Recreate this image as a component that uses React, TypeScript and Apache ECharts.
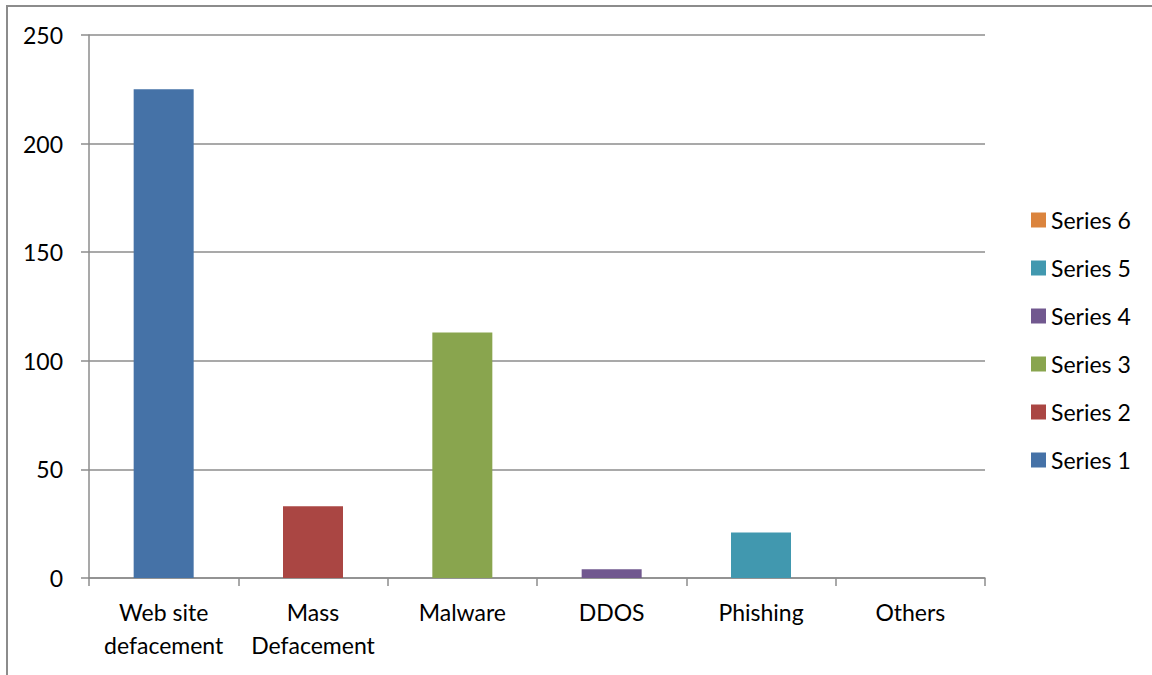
import React, { useEffect, useRef } from "react";
import * as echarts from "echarts";

const categories = ["Web site\ndefacement", "Mass\nDefacement", "Malware", "DDOS", "Phishing", "Others"];
const seriesNames = ["Series 1", "Series 2", "Series 3", "Series 4", "Series 5", "Series 6"];
const seriesValues = [225, 33, 113, 4, 21, 0];
const seriesColors = ["#4572A7", "#AA4643", "#89A54E", "#71588F", "#4198AF", "#DB843D"];
const yTicks = { min: 0, max: 250, interval: 50 };

const FONT = "Lato, 'Open Sans', sans-serif";

export default function App() {
  const ref = useRef<HTMLDivElement>(null);
  useEffect(() => {
    if (!ref.current) return;
    const chart = echarts.init(ref.current, undefined, { renderer: "svg" });
    const series = seriesNames.map((name, i) => ({
      name,
      type: "bar",
      stack: "total",
      barWidth: 60,
      itemStyle: { color: seriesColors[i] },
      data: categories.map((_, j) => (j === i ? seriesValues[i] : "-")),
    }));
    chart.setOption({
      animation: false,
      textStyle: { fontFamily: FONT },
      graphic: [
        {
          type: "rect",
          shape: { x: 7, y: 6, width: 1160, height: 690 },
          style: { fill: "none", stroke: "#8c8c8c", lineWidth: 2 },
          silent: true,
        },
      ],
      grid: { left: 89, right: 167, top: 35, bottom: 97 },
      legend: {
        orient: "vertical",
        left: 1026,
        top: 203,
        itemWidth: 15,
        itemHeight: 15,
        itemGap: 24,
        icon: "rect",
        data: [...seriesNames].reverse(),
        textStyle: { fontSize: 23, color: "#000", lineHeight: 24, fontFamily: FONT },
      },
      xAxis: {
        type: "category",
        data: categories,
        axisLine: { lineStyle: { color: "#8c8c8c", width: 1.5 } },
        axisTick: { show: true, interval: 0, length: 8, alignWithLabel: false, lineStyle: { color: "#8c8c8c", width: 1.5 } },
        axisLabel: { interval: 0, fontSize: 23, color: "#000", lineHeight: 33, margin: 17, fontFamily: FONT },
      },
      yAxis: {
        type: "value",
        min: yTicks.min,
        max: yTicks.max,
        interval: yTicks.interval,
        axisLine: { show: true, lineStyle: { color: "#8c8c8c", width: 1.5 } },
        axisTick: { show: true, length: 8, lineStyle: { color: "#8c8c8c", width: 1.5 } },
        splitLine: { show: true, lineStyle: { color: "#8c8c8c", width: 1.5 } },
        axisLabel: { fontSize: 23, color: "#000", margin: 26, fontFamily: FONT },
      },
      series,
    });
    return () => chart.dispose();
  }, []);
  return (
    <div
      ref={ref}
      style={{ position: "fixed", left: 0, top: 0, width: 1152, height: 675, background: "#fff" }}
    />
  );
}
